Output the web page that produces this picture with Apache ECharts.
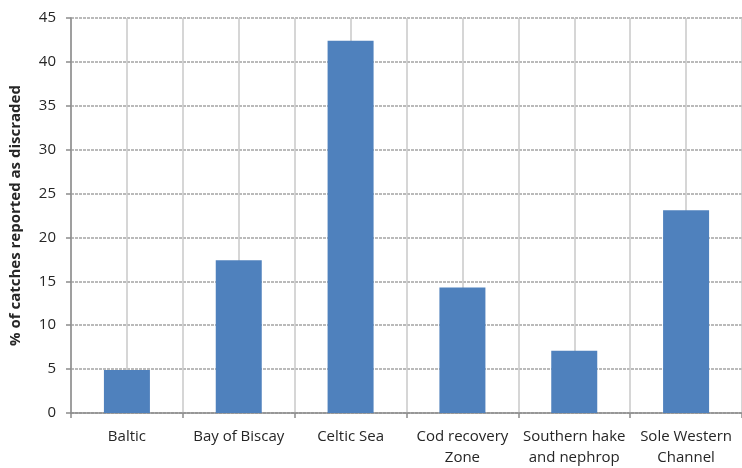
<!DOCTYPE html>
<html>
<head>
<meta charset="utf-8">
<script src="https://cdn.jsdelivr.net/npm/echarts@6/dist/echarts.min.js"></script>
<style>
html,body{margin:0;padding:0;background:#fff;}
#chart{width:742px;height:468px;}
</style>
</head>
<body>
<div id="chart"></div>
<script>
var categories = ['Baltic', 'Bay of Biscay', 'Celtic Sea', 'Cod recovery\nZone', 'Southern hake\nand nephrop', 'Sole Western\nChannel'];
var discardValues = [4.9, 17.4, 42.4, 14.3, 7.1, 23.1];
var yAxisName = '% of catches reported as discraded';

var halfBands = [];
categories.forEach(function (c, i) { halfBands.push(i + 'a', i + 'b'); });

var chart = echarts.init(document.getElementById('chart'));
chart.setOption({
  animation: false,
  backgroundColor: '#fff',
  textStyle: { fontFamily: '"Open Sans", "Noto Sans", sans-serif' },
  grid: { left: 68, top: 18, width: 683, bottom: 55, containLabel: false },
  xAxis: [{
    type: 'category',
    data: categories,
    axisLine: { show: true, lineStyle: { color: '#8c8c8c', width: 1.5 } },
    axisTick: { show: true, length: 5, lineStyle: { color: '#8c8c8c', width: 1.5 } },
    axisLabel: { color: '#262626', fontSize: 15, fontFamily: '"Open Sans", sans-serif', margin: 13, lineHeight: 21, interval: 0 },
    splitLine: { show: false }
  }, {
    type: 'category',
    data: halfBands,
    position: 'bottom',
    axisLine: { show: false },
    axisTick: { show: false },
    axisLabel: { show: false },
    splitLine: { show: true, interval: 0, lineStyle: { color: '#c8c8c8', width: 1.5 } }
  }],
  yAxis: {
    type: 'value',
    min: 0, max: 45, interval: 5,
    name: yAxisName,
    nameLocation: 'middle',
    nameGap: 48,
    nameTextStyle: { color: '#262626', fontSize: 15, fontWeight: 'bold', fontFamily: '"Open Sans", sans-serif' },
    axisLine: { show: true, lineStyle: { color: '#8c8c8c', width: 1.5 } },
    axisTick: { show: true, length: 5, lineStyle: { color: '#8c8c8c', width: 1.5 } },
    axisLabel: { color: '#262626', fontSize: 15, fontFamily: '"Open Sans", sans-serif', margin: 15 },
    splitLine: { show: true, lineStyle: { color: '#a4a4a4', width: 1.5, type: [3, 1] } }
  },
  series: [{
    type: 'bar',
    data: discardValues,
    xAxisIndex: 0,
    barWidth: 46,
    itemStyle: { color: '#4f81bd' }
  }]
});
</script>
</body>
</html>
